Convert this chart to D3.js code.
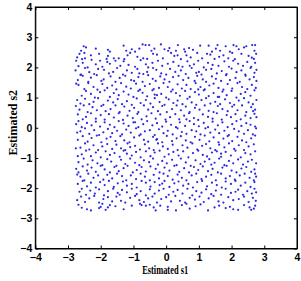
<!DOCTYPE html>
<html><head><meta charset="utf-8">
<script src="https://cdn.jsdelivr.net/npm/d3@7"></script>
<style>html,body{margin:0;padding:0;background:#fff;}svg{display:block;}</style>
</head><body>
<svg id="chart" width="301" height="281"></svg>
<script>
// Axis ticks
const xTicks = [-4,-3,-2,-1,0,1,2,3,4];
const yTicks = [-4,-3,-2,-1,0,1,2,3,4];
const xLabel = "Estimated s1";
const yLabel = "Estimated s2";

// Estimated s1 (x) values, read band by band from top to bottom
const s1 = [
-2.52,-2.45,-2.15,-1.78,-1.72,-1.30,-1.22,-1.05,-0.82,-0.72,-0.63,-0.52,-0.45,-0.36,-0.16,-0.05,0.06,0.10,0.30,0.36,0.55,0.58,0.70,0.82,1.04,1.30,1.40,1.52,1.57,1.65,1.82,2.06,2.15,2.22,2.38,2.45,2.63,2.72,2.70,1.95,-0.95,-2.60,
-2.72,-2.65,-2.57,-2.50,-2.48,-2.30,-2.05,-1.82,-1.78,-1.45,-1.28,-1.18,-1.10,-0.88,-0.70,-0.58,-0.40,-0.28,-0.10,0.15,0.25,0.45,0.62,0.75,0.95,1.10,1.25,1.35,1.48,1.62,1.75,1.90,2.02,2.10,2.30,2.52,2.62,2.68,2.75,0.35,-1.60,
-2.75,-2.68,-2.55,-2.40,-2.28,-2.15,-1.95,-1.80,-1.72,-1.55,-1.40,-1.30,-1.15,-0.95,-0.78,-0.62,-0.55,-0.42,-0.25,-0.12,0.05,0.22,0.38,0.50,0.65,0.85,0.98,1.15,1.28,1.42,1.60,1.78,1.92,2.05,2.20,2.35,2.48,2.60,2.72,-2.02,0.72,
-2.77,-2.60,-2.48,-2.35,-2.20,-2.08,-1.90,-1.75,-1.62,-1.50,-1.32,-1.20,-1.05,-0.88,-0.70,-0.58,-0.40,-0.30,-0.15,0.00,0.12,0.28,0.45,0.60,0.78,0.92,1.08,1.22,1.38,1.55,1.70,1.85,2.00,2.15,2.30,2.42,2.58,2.70,2.76,1.00,-0.82,
-2.70,-2.55,-2.38,-2.30,-2.12,-1.98,-1.91,-1.70,-1.55,-1.42,-1.25,-1.07,-0.98,-0.85,-0.72,-0.55,-0.41,-0.32,-0.18,-0.05,0.10,0.21,0.38,0.52,0.68,0.87,0.95,1.12,1.22,1.40,1.52,1.68,1.83,1.95,2.12,2.25,2.43,2.55,2.68,2.76,-2.62,
-2.68,-2.50,-2.38,-2.22,-2.10,-1.95,-1.80,-1.65,-1.52,-1.38,-1.22,-1.08,-0.92,-0.80,-0.65,-0.50,-0.38,-0.22,-0.08,0.05,0.20,0.35,0.48,0.62,0.75,0.90,1.05,1.18,1.32,1.45,1.60,1.75,1.88,2.02,2.18,2.32,2.48,2.62,2.74,-2.75,0.98,
-2.58,-2.45,-2.30,-2.18,-2.02,-1.88,-1.72,-1.60,-1.45,-1.30,-1.15,-1.00,-0.85,-0.72,-0.58,-0.42,-0.28,-0.15,0.00,0.15,0.30,0.42,0.58,0.72,0.88,1.00,1.15,1.30,1.45,1.58,1.72,1.85,2.00,2.15,2.28,2.42,2.58,2.70,-0.35,1.62,
-2.72,-2.62,-2.48,-2.35,-2.22,-2.08,-1.92,-1.78,-1.62,-1.48,-1.35,-1.20,-1.05,-0.90,-0.78,-0.62,-0.48,-0.35,-0.20,-0.05,0.08,0.22,0.35,0.50,0.65,0.78,0.92,1.08,1.22,1.35,1.50,1.65,1.80,1.95,2.08,2.22,2.38,2.52,2.65,2.76,
-2.65,-2.52,-2.40,-2.25,-2.12,-1.98,-1.85,-1.70,-1.55,-1.42,-1.28,-1.12,-0.98,-0.85,-0.68,-0.55,-0.40,-0.25,-0.12,0.02,0.18,0.32,0.45,0.60,0.72,0.88,1.02,1.18,1.30,1.45,1.58,1.72,1.88,2.02,2.18,2.32,2.45,2.60,2.72,2.66,-2.76,
-2.70,-2.55,-2.45,-2.30,-2.15,-2.00,-1.88,-1.75,-1.60,-1.45,-1.32,-1.18,-1.02,-0.88,-0.75,-0.60,-0.45,-0.32,-0.18,-0.02,0.12,0.28,0.40,0.55,0.70,0.85,0.98,1.12,1.28,1.42,1.55,1.70,1.85,1.98,2.12,2.28,2.42,2.58,2.70,2.76,0.62,
-2.75,-2.68,-2.58,-2.42,-2.28,-2.15,-2.02,-1.88,-1.72,-1.58,-1.45,-1.30,-1.15,-1.00,-0.85,-0.70,-0.58,-0.42,-0.28,-0.12,0.00,0.15,0.30,0.42,0.58,0.72,0.85,1.00,1.15,1.28,1.42,1.58,1.72,1.88,2.02,2.15,2.30,2.45,2.58,2.72,-0.95,
-2.62,-2.48,-2.35,-2.20,-2.05,-1.92,-1.78,-1.65,-1.50,-1.35,-1.22,-1.08,-0.92,-0.78,-0.65,-0.50,-0.35,-0.22,-0.08,0.05,0.20,0.35,0.48,0.62,0.78,0.92,1.05,1.20,1.35,1.50,1.62,1.78,1.92,2.08,2.22,2.38,2.50,2.65,2.75,-2.72,
-2.70,-2.55,-2.40,-2.28,-2.12,-1.98,-1.82,-1.70,-1.55,-1.40,-1.28,-1.12,-0.98,-0.82,-0.68,-0.55,-0.40,-0.28,-0.12,0.02,0.18,0.32,0.45,0.60,0.75,0.88,1.02,1.18,1.32,1.45,1.60,1.75,1.88,2.02,2.18,2.32,2.45,2.60,2.72,-0.30,
-2.62,-2.48,-2.35,-2.22,-2.08,-1.95,-1.80,-1.65,-1.52,-1.38,-1.25,-1.18,-1.10,-0.95,-0.80,-0.65,-0.52,-0.38,-0.25,-0.10,0.05,0.20,0.35,0.50,0.65,0.80,0.95,1.10,1.22,1.35,1.50,1.62,1.78,1.92,2.08,2.22,2.38,2.52,2.68,-2.76,
-2.58,-2.45,-2.30,-2.15,-2.00,-1.85,-1.72,-1.58,-1.42,-1.30,-1.20,-1.05,-0.92,-0.78,-0.62,-0.48,-0.35,-0.20,-0.05,0.08,0.22,0.38,0.52,0.68,0.82,0.98,1.12,1.25,1.40,1.55,1.68,1.68,1.82,1.98,2.12,2.28,2.42,2.58,2.72,-2.70,
-2.68,-2.52,-2.40,-2.25,-2.10,-1.95,-1.80,-1.68,-1.52,-1.38,-1.25,-1.10,-0.95,-0.82,-0.68,-0.52,-0.40,-0.25,-0.12,0.02,0.18,0.32,0.45,0.60,0.75,0.90,1.05,1.18,1.32,1.38,1.48,1.62,1.78,1.92,2.05,2.20,2.35,2.50,2.62,2.75,
-2.75,-2.68,-2.55,-2.42,-2.28,-2.15,-2.00,-1.88,-1.72,-1.58,-1.45,-1.30,-1.18,-1.02,-0.90,-0.75,-0.62,-0.48,-0.32,-0.20,-0.05,0.10,0.25,0.40,0.55,0.70,0.85,0.98,1.12,1.28,1.42,1.58,1.72,1.85,2.00,2.15,2.30,2.45,2.60,2.70,2.72,
-2.62,-2.50,-2.38,-2.22,-2.08,-1.92,-1.80,-1.65,-1.50,-1.35,-1.22,-1.08,-0.92,-0.78,-0.65,-0.50,-0.38,-0.22,-0.08,0.05,0.20,0.35,0.48,0.62,0.78,0.92,1.08,1.22,1.38,1.52,1.68,1.82,1.95,2.10,2.25,2.40,2.55,2.68,2.75,-2.72,
-2.70,-2.55,-2.42,-2.30,-2.15,-2.02,-1.88,-1.75,-1.60,-1.48,-1.32,-1.20,-1.05,-0.90,-0.75,-0.62,-0.48,-0.35,-0.20,-0.05,0.10,0.25,0.38,0.52,0.68,0.82,0.95,1.10,1.25,1.40,1.55,1.70,1.82,1.98,2.12,2.28,2.42,2.58,2.70,-0.12,
-2.65,-2.58,-2.45,-2.32,-2.18,-2.05,-1.90,-1.78,-1.62,-1.48,-1.42,-1.35,-1.20,-1.05,-0.90,-0.78,-0.62,-0.50,-0.35,-0.22,-0.08,0.08,0.22,0.35,0.50,0.65,0.80,0.92,1.08,1.22,1.38,1.52,1.68,1.82,1.98,2.12,2.20,2.35,2.48,2.62,2.75,2.70,
-2.72,-2.60,-2.48,-2.35,-2.20,-2.05,-1.92,-1.78,-1.65,-1.52,-1.38,-1.25,-1.10,-0.95,-0.82,-0.68,-0.55,-0.42,-0.28,-0.15,0.00,0.15,0.28,0.42,0.58,0.72,0.88,1.02,1.15,1.30,1.45,1.60,1.75,1.90,2.05,2.22,2.38,2.52,2.65,2.74,
-2.68,-2.58,-2.42,-2.30,-2.05,-2.00,-1.85,-1.78,-1.72,-1.55,-1.30,-1.05,-0.80,-0.75,-0.62,-0.50,-0.38,-0.32,-0.18,0.05,0.05,0.30,0.48,0.72,0.90,1.05,1.28,1.48,1.62,1.82,2.05,2.20,2.38,2.55,2.60,2.68,2.72,0.62,-1.95,1.95
];

// Estimated s2 (y) values, same order as s1
const s2 = [
2.70,2.66,2.62,2.58,2.52,2.72,2.55,2.60,2.62,2.76,2.74,2.74,2.55,2.62,2.76,2.60,2.55,2.64,2.55,2.74,2.60,2.52,2.64,2.58,2.72,2.72,2.52,2.62,2.74,2.55,2.70,2.74,2.70,2.60,2.66,2.70,2.74,2.74,2.55,2.52,2.52,2.55,
2.33,2.45,2.27,2.48,2.30,2.40,2.45,2.28,2.38,2.30,2.27,2.40,2.48,2.35,2.30,2.28,2.45,2.42,2.30,2.48,2.38,2.27,2.40,2.33,2.48,2.30,2.45,2.42,2.28,2.35,2.40,2.30,2.48,2.27,2.45,2.38,2.32,2.28,2.45,2.40,2.30,
2.22,2.04,2.15,2.00,2.25,2.10,2.02,2.18,2.12,2.22,2.05,2.20,2.08,2.02,2.24,2.10,2.00,2.15,2.22,2.05,2.12,2.18,2.05,2.02,2.20,2.10,2.22,2.00,2.15,2.08,2.05,2.20,2.02,2.22,2.12,2.05,2.18,2.02,2.15,2.22,2.05,
1.90,1.76,1.98,1.84,1.78,1.95,1.92,1.80,1.85,1.98,1.76,1.90,1.82,1.95,1.78,1.85,1.98,1.92,1.80,1.76,1.95,1.85,1.90,1.78,1.98,1.82,1.76,1.92,1.95,1.80,1.88,1.78,1.96,1.84,1.90,1.76,1.98,1.82,1.92,1.85,1.80,
1.58,1.72,1.52,1.66,1.74,1.55,1.60,1.70,1.52,1.65,1.72,1.58,1.55,1.68,1.52,1.74,1.62,1.55,1.70,1.60,1.52,1.68,1.72,1.58,1.65,1.55,1.72,1.60,1.52,1.70,1.62,1.55,1.74,1.58,1.65,1.52,1.72,1.60,1.68,1.55,1.75,
1.42,1.28,1.48,1.35,1.26,1.45,1.32,1.40,1.27,1.48,1.36,1.30,1.46,1.26,1.38,1.45,1.28,1.32,1.48,1.35,1.26,1.44,1.30,1.42,1.28,1.48,1.35,1.27,1.40,1.46,1.32,1.26,1.45,1.30,1.48,1.35,1.28,1.42,1.32,1.46,1.27,
1.06,1.22,1.12,1.00,1.18,1.24,1.02,1.15,1.08,1.20,1.10,1.02,1.22,1.16,1.04,1.24,1.08,1.12,1.00,1.20,1.15,1.06,1.22,1.02,1.18,1.10,1.24,1.05,1.15,1.02,1.20,1.08,1.22,1.00,1.12,1.18,1.06,1.24,1.10,1.02,
0.92,0.80,0.96,0.78,0.86,0.98,0.76,0.90,0.84,0.95,0.78,0.88,0.76,0.97,0.82,0.92,0.80,0.98,0.85,0.76,0.94,0.82,0.90,0.78,0.96,0.84,0.76,0.92,0.98,0.80,0.86,0.78,0.94,0.82,0.76,0.90,0.98,0.84,0.78,0.92,
0.60,0.74,0.52,0.68,0.58,0.72,0.55,0.62,0.74,0.52,0.70,0.56,0.66,0.52,0.74,0.60,0.68,0.55,0.72,0.52,0.62,0.74,0.58,0.70,0.52,0.66,0.60,0.74,0.56,0.52,0.72,0.62,0.55,0.70,0.58,0.74,0.52,0.68,0.60,0.55,0.72,
0.44,0.28,0.36,0.48,0.30,0.42,0.27,0.45,0.34,0.48,0.26,0.40,0.32,0.46,0.28,0.38,0.48,0.30,0.44,0.27,0.35,0.45,0.28,0.40,0.48,0.32,0.26,0.44,0.36,0.30,0.48,0.27,0.42,0.35,0.45,0.28,0.40,0.32,0.46,0.35,0.28,
0.12,0.22,0.02,0.16,0.08,0.20,0.04,0.18,0.10,0.02,0.22,0.14,0.06,0.18,0.02,0.12,0.22,0.08,0.15,0.04,0.20,0.10,0.02,0.18,0.06,0.22,0.12,0.05,0.16,0.02,0.20,0.08,0.18,0.02,0.12,0.22,0.06,0.15,0.10,0.04,0.18,
-0.12,-0.02,-0.20,-0.08,-0.24,-0.15,-0.04,-0.18,-0.10,-0.22,-0.06,-0.16,-0.02,-0.22,-0.12,-0.08,-0.24,-0.05,-0.18,-0.10,-0.22,-0.02,-0.14,-0.20,-0.08,-0.12,-0.22,-0.02,-0.16,-0.06,-0.18,-0.10,-0.24,-0.04,-0.12,-0.20,-0.08,-0.22,-0.02,-0.16,
-0.40,-0.28,-0.46,-0.34,-0.26,-0.48,-0.36,-0.30,-0.44,-0.28,-0.42,-0.48,-0.32,-0.26,-0.40,-0.46,-0.30,-0.38,-0.48,-0.27,-0.44,-0.35,-0.28,-0.42,-0.48,-0.30,-0.40,-0.26,-0.45,-0.32,-0.48,-0.36,-0.28,-0.44,-0.30,-0.42,-0.48,-0.35,-0.26,-0.40,
-0.66,-0.52,-0.72,-0.58,-0.74,-0.62,-0.54,-0.70,-0.56,-0.68,-0.74,-0.52,-0.64,-0.60,-0.72,-0.55,-0.68,-0.74,-0.52,-0.62,-0.70,-0.56,-0.74,-0.58,-0.66,-0.52,-0.72,-0.60,-0.54,-0.68,-0.74,-0.56,-0.65,-0.52,-0.70,-0.58,-0.74,-0.62,-0.55,-0.68,
-0.88,-0.76,-0.94,-0.82,-0.98,-0.78,-0.90,-0.84,-0.96,-0.76,-0.86,-0.92,-0.80,-0.98,-0.78,-0.94,-0.82,-0.76,-0.96,-0.88,-0.80,-0.92,-0.78,-0.98,-0.84,-0.76,-0.90,-0.95,-0.82,-0.78,-0.96,-0.86,-0.80,-0.92,-0.76,-0.98,-0.84,-0.88,-0.78,-0.94,
-1.14,-1.02,-1.22,-1.08,-1.18,-1.24,-1.04,-1.12,-1.26,-1.06,-1.20,-1.02,-1.16,-1.24,-1.08,-1.14,-1.02,-1.22,-1.10,-1.18,-1.06,-1.24,-1.02,-1.15,-1.26,-1.08,-1.20,-1.12,-1.04,-1.22,-1.16,-1.02,-1.24,-1.10,-1.18,-1.05,-1.22,-1.12,-1.06,-1.18,
-1.36,-1.48,-1.28,-1.42,-1.32,-1.46,-1.26,-1.38,-1.48,-1.30,-1.44,-1.34,-1.26,-1.48,-1.40,-1.30,-1.45,-1.28,-1.36,-1.48,-1.32,-1.42,-1.26,-1.46,-1.34,-1.48,-1.30,-1.40,-1.28,-1.44,-1.36,-1.48,-1.32,-1.26,-1.42,-1.48,-1.35,-1.30,-1.46,-1.38,-1.52,
-1.62,-1.74,-1.52,-1.66,-1.58,-1.72,-1.56,-1.68,-1.52,-1.60,-1.74,-1.58,-1.70,-1.52,-1.62,-1.74,-1.56,-1.68,-1.52,-1.60,-1.72,-1.55,-1.66,-1.74,-1.58,-1.52,-1.70,-1.62,-1.56,-1.74,-1.52,-1.68,-1.60,-1.72,-1.58,-1.52,-1.66,-1.74,-1.62,-1.55,
-1.86,-1.76,-1.94,-1.82,-1.98,-1.80,-1.90,-1.76,-1.96,-1.84,-1.78,-1.92,-1.86,-1.98,-1.76,-1.82,-1.95,-1.80,-1.90,-1.76,-1.96,-1.84,-1.78,-1.92,-1.86,-1.98,-1.80,-1.76,-1.94,-1.82,-1.90,-1.98,-1.78,-1.86,-1.76,-1.92,-1.82,-1.96,-1.80,-1.85,
-2.12,-2.02,-2.22,-2.08,-2.18,-2.04,-2.24,-2.10,-2.02,-2.16,-2.22,-2.06,-2.14,-2.02,-2.20,-2.10,-2.24,-2.04,-2.18,-2.08,-2.02,-2.22,-2.12,-2.06,-2.18,-2.02,-2.24,-2.10,-2.15,-2.04,-2.20,-2.08,-2.22,-2.02,-2.16,-2.12,-2.05,-2.22,-2.10,-2.18,-2.14,-2.02,
-2.40,-2.28,-2.46,-2.34,-2.26,-2.48,-2.36,-2.30,-2.44,-2.28,-2.42,-2.48,-2.32,-2.26,-2.40,-2.46,-2.34,-2.28,-2.48,-2.36,-2.30,-2.44,-2.26,-2.42,-2.48,-2.32,-2.38,-2.28,-2.46,-2.34,-2.26,-2.44,-2.48,-2.30,-2.40,-2.36,-2.28,-2.46,-2.32,-2.42,
-2.55,-2.65,-2.70,-2.74,-2.66,-2.62,-2.72,-2.64,-2.56,-2.60,-2.70,-2.58,-2.52,-2.56,-2.58,-2.55,-2.64,-2.74,-2.58,-2.62,-2.72,-2.74,-2.56,-2.68,-2.60,-2.54,-2.74,-2.64,-2.58,-2.66,-2.70,-2.72,-2.56,-2.64,-2.72,-2.68,-2.58,-2.52,-2.52,-2.62
];

const svg = d3.select("#chart");
const W = 301, H = 281;
const m = {left: 35.3, right: 4, top: 7, bottom: 32.5};
const x = d3.scaleLinear().domain([-4, 4]).range([m.left, W - m.right]);
const y = d3.scaleLinear().domain([-4, 4]).range([H - m.bottom, m.top]);

svg.append("rect").attr("width", W).attr("height", H).attr("fill", "#fff");

const pts = d3.zip(s1, s2);
svg.append("g").selectAll("circle").data(pts).join("circle")
  .attr("cx", d => x(d[0])).attr("cy", d => y(d[1]))
  .attr("r", 1.1).attr("fill", "#2a2ae0");

const fmt = d3.format("d");
const tickFont = g => g.selectAll("text")
  .attr("font-family", "'Liberation Sans', Arial, sans-serif")
  .attr("font-weight", "bold").attr("font-size", 10.5).attr("fill", "#000");

const gx = svg.append("g").attr("transform", `translate(0,${y(-4)})`)
  .call(d3.axisBottom(x).tickValues(xTicks).tickFormat(fmt).tickSize(-3).tickSizeOuter(0).tickPadding(5));
gx.call(tickFont);
const gy = svg.append("g").attr("transform", `translate(${x(-4)},0)`)
  .call(d3.axisLeft(y).tickValues(yTicks).tickFormat(fmt).tickSize(-3).tickSizeOuter(0).tickPadding(3));
gy.call(tickFont);
const gt = svg.append("g").attr("transform", `translate(0,${y(4)})`)
  .call(d3.axisTop(x).tickValues(xTicks).tickFormat("").tickSize(-3).tickSizeOuter(0));
const gr = svg.append("g").attr("transform", `translate(${x(4)},0)`)
  .call(d3.axisRight(y).tickValues(yTicks).tickFormat("").tickSize(-3).tickSizeOuter(0));
[gx, gy, gt, gr].forEach(g => { g.select(".domain").attr("stroke", "#000"); g.selectAll("line").attr("stroke", "#000"); });

svg.append("rect")
  .attr("x", x(-4)).attr("y", y(4))
  .attr("width", x(4) - x(-4)).attr("height", y(-4) - y(4))
  .attr("fill", "none").attr("stroke", "#000").attr("stroke-width", 1);

svg.append("text").text(xLabel)
  .attr("x", (x(-4) + x(4)) / 2 - 1).attr("y", 274)
  .attr("text-anchor", "middle")
  .attr("font-family", "'Liberation Serif', 'Times New Roman', serif")
  .attr("font-weight", "bold").attr("font-size", 12)
  .attr("textLength", 46).attr("lengthAdjust", "spacingAndGlyphs");

svg.append("text").text(yLabel)
  .attr("transform", `translate(17,${(y(-4) + y(4)) / 2 - 5}) rotate(-90)`)
  .attr("text-anchor", "middle")
  .attr("font-family", "'Liberation Serif', 'Times New Roman', serif")
  .attr("font-weight", "bold").attr("font-size", 12);
</script>
</body></html>
